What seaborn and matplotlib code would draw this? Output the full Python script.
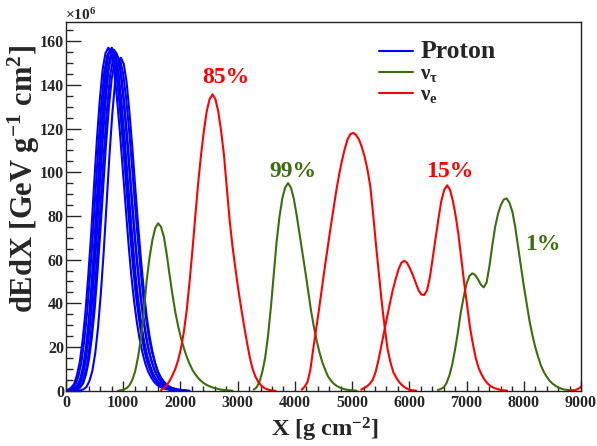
import numpy as np
import pandas as pd
import matplotlib
matplotlib.use("Agg")
import matplotlib.pyplot as plt
import seaborn as sns
from matplotlib.ticker import MultipleLocator
from matplotlib.lines import Line2D

# ---------------- data (dEdX in units of 1e6 GeV g^-1 cm^2) ----------------
STEP = 50  # sampling step in X [g cm^-2]

# Proton showers: X of first sample, then values every STEP
PROTON_START = [-60, -30, 0, 20, 40, 70, 100, 160]
PROTON_VALUES = [
    [0, 0.1, 0.5, 1.4, 3, 7, 13, 23, 36, 53, 72, 94, 115, 133, 147, 154.5, 157, 154.5, 147, 134, 119, 102, 85, 68, 53, 41, 31, 23, 17, 12, 8.5, 6, 4, 2.7, 1.8, 1.2, 0.8, 0.5, 0.3, 0.2, 0.1],
    [0, 0.1, 0.5, 1.4, 3, 7, 13, 23, 36, 53, 72, 93, 114, 132, 146, 153.5, 156, 154, 147, 135, 121, 105, 88, 72, 57, 44, 34, 25, 18.5, 13, 9.5, 6.5, 4.5, 3, 2, 1.3, 0.9, 0.6, 0.4, 0.2, 0.1],
    [0, 0, 0.3, 1, 2.3, 5.5, 11, 20, 33, 50, 70, 92, 114, 133, 147, 154.5, 157, 154.5, 147, 134, 118, 101, 84, 67, 52, 40, 30, 22, 16, 11.5, 8, 5.6, 3.8, 2.6, 1.7, 1.1, 0.7, 0.5, 0.3, 0.2, 0.1],
    [0, 0.1, 0.5, 1.4, 3, 7, 13, 23, 36, 53, 72, 92, 113, 131, 145, 152.5, 155, 152.5, 145, 132, 117, 100, 83, 67, 52, 40, 30, 22, 16, 11.5, 8, 5.6, 3.8, 2.6, 1.7, 1.1, 0.7, 0.5, 0.3, 0.2, 0.1],
    [0, 0.1, 0.5, 1.4, 3, 7, 13, 23, 36, 53, 72, 93, 114, 132, 146, 153.5, 156, 154, 148, 137, 123, 107, 90, 74, 59, 46, 35, 26, 19, 14, 10, 7, 4.8, 3.2, 2.1, 1.4, 0.9, 0.6, 0.4, 0.2, 0.1],
    [0, 0.1, 0.4, 1.2, 2.8, 6.5, 12, 22, 35, 52, 71, 92, 112, 130, 144, 151.5, 154, 151.5, 144, 131, 116, 99, 82, 66, 52, 40, 30, 22, 16, 11.5, 8, 5.6, 3.8, 2.6, 1.7, 1.1, 0.7, 0.5, 0.3, 0.2, 0.1],
    [0, 0.1, 0.5, 1.5, 3.3, 7.5, 14, 24, 37, 54, 73, 93, 113, 130, 143, 150.5, 153, 151, 145, 134, 120, 104, 87, 71, 56, 43, 33, 24, 18, 13, 9, 6.4, 4.4, 3, 2, 1.3, 0.9, 0.6, 0.4, 0.2, 0.1],
    [0, 0, 0.2, 0.7, 1.8, 4.5, 9, 17, 29, 45, 64, 86, 108, 127, 142, 150, 152.4, 149.5, 141, 127, 111, 93, 76, 60, 46, 34, 25, 18, 12.5, 8.5, 5.8, 3.9, 2.6, 1.7, 1.1, 0.7, 0.4, 0.3, 0.2, 0.1, 0],
]

# nu_tau showers
NUTAU_START = [910, 3280, 6500]
NUTAU_VALUES = [
    [0, 0.2, 0.5, 1.2, 2.5, 5, 9, 15.5, 24, 36, 50.5, 61, 69, 74.5, 76.6, 75, 70.5, 62.5, 53, 44, 36, 29.5, 24, 19.5, 15.5, 12.3, 9.5, 7.5, 5.8, 4.5, 3.4, 2.6, 2, 1.5, 1.1, 0.8, 0.5, 0.35, 0.2, 0.1, 0],
    [0.5, 1.5, 4, 8.5, 15, 25, 38, 53, 68, 79.5, 88, 93, 95, 93, 88, 80.5, 72, 63.5, 55, 46, 37, 29.5, 23, 17.5, 13, 9.5, 6.5, 4.6, 3.2, 2.2, 1.5, 1, 0.6, 0.35, 0.2, 0.1, 0],
    [0.3, 0.8, 1.5, 3.5, 7, 12, 19, 27, 36, 43, 49, 52.5, 53.7, 53, 51, 48.5, 47.3, 49.5, 57, 66.5, 75, 81, 85, 87.5, 88, 86, 82, 75, 66, 57, 48, 40, 32, 25.5, 20, 15.5, 11.5, 8.6, 6.4, 4.6, 3.3, 2.3, 1.5, 1, 0.6, 0.35, 0.2, 0.1, 0],
]

# nu_e showers
NUE_START = [1660, 4120, 5160, 8800]
NUE_VALUES = [
    [0.3, 1.2, 2.6, 4.5, 7, 10, 14, 19.5, 27, 37, 50, 64.5, 80, 95, 108, 119, 128, 133.5, 135.6, 133.5, 128, 119, 108, 93, 78, 66, 56, 46.5, 38, 30, 22.5, 15.5, 10, 6.5, 4, 2.4, 1.3, 0.7, 0.3, 0.1, 0],
    [0.5, 1.8, 4, 9.5, 19, 28, 37, 46.5, 56, 65, 74, 82.5, 91, 98.5, 105, 110.5, 115, 117.5, 118, 117, 115, 111.5, 107, 101, 93, 80, 66, 53, 40, 29, 19, 13, 8.5, 6, 4, 2.6, 1.5, 0.8, 0.4, 0.15, 0],
    [0.5, 1.2, 2, 3.2, 5, 8.5, 14, 20.5, 27, 33.5, 40, 46, 51, 55.5, 58.5, 59.5, 58.5, 56, 53, 49.5, 46, 44, 43.8, 46, 52, 61, 70, 79, 87, 92, 94, 92, 87, 80, 71, 60, 49, 39, 29, 21.5, 15, 10.5, 7.5, 5.2, 3.5, 2.3, 1.5, 1, 0.6, 0.3, 0.15, 0],
    [0, 0.1, 0.3, 0.8, 1.8, 3.5],
]

PERCENT_LABELS = ["85%", "99%", "15%", "1%"]
PERCENT_KIND = ["nue", "nutau", "nue", "nutau"]

# ---------------- build long-form table ----------------
rows = []
sid = 0
for kind, starts, vals in (("proton", PROTON_START, PROTON_VALUES),
                           ("nutau", NUTAU_START, NUTAU_VALUES),
                           ("nue", NUE_START, NUE_VALUES)):
    for s, v in zip(starts, vals):
        for i, y in enumerate(v):
            rows.append((kind, sid, s + STEP * i, y))
        sid += 1
df = pd.DataFrame(rows, columns=["kind", "shower", "X", "dEdX"])

# ---------------- style ----------------
sns.set_theme(style="ticks")
plt.rcParams["font.family"] = ["Liberation Serif", "DejaVu Serif"]
plt.rcParams["font.weight"] = "bold"
plt.rcParams["mathtext.fontset"] = "custom"
plt.rcParams["mathtext.rm"] = "Liberation Serif:bold"
plt.rcParams["mathtext.it"] = "Liberation Serif:bold"
plt.rcParams["mathtext.bf"] = "Liberation Serif:bold"
plt.rcParams["mathtext.default"] = "rm"

BLUE = "#0000ff"
GREEN = "#3d6e0c"
RED = "#ff0000"
palette = {"proton": BLUE, "nutau": GREEN, "nue": RED}

fig = plt.figure(figsize=(5.97, 4.46), dpi=100)
ax = fig.add_axes([66 / 597, 1 - 390.7 / 446, 515 / 597, 369 / 446])

sns.lineplot(data=df, x="X", y="dEdX", hue="kind", units="shower", estimator=None,
             palette=palette, hue_order=["proton", "nutau", "nue"], lw=1.5,
             legend=False, ax=ax, sort=False)

ax.set_xlim(0, 9000)
ax.set_ylim(0, 168.9)
ax.set_xlabel("")
ax.set_ylabel("")

ax.xaxis.set_major_locator(MultipleLocator(1000))
ax.xaxis.set_minor_locator(MultipleLocator(200))
ax.yaxis.set_major_locator(MultipleLocator(20))
ax.yaxis.set_minor_locator(MultipleLocator(5))
ax.tick_params(axis="y", which="major", direction="in", length=10.5, width=1, pad=1.5, labelsize=11.5)
ax.tick_params(axis="y", which="minor", direction="in", length=5, width=1)
ax.tick_params(axis="x", which="major", direction="in", length=7, width=1, pad=3, labelsize=11.5)
ax.tick_params(axis="x", which="minor", direction="in", length=3.6, width=1)
for lab in ax.get_xticklabels() + ax.get_yticklabels():
    lab.set_fontweight("bold")
for sp in ax.spines.values():
    sp.set_visible(True)
    sp.set_color("#222222")
    sp.set_linewidth(1.0)

# percentage annotations
pct_pos = [(2787, 141), (3967, 97.7), (6712, 97.9), (8337, 64.4)]
for txt, kind, (px, py) in zip(PERCENT_LABELS, PERCENT_KIND, pct_pos):
    ax.text(px, py, txt, color=palette[kind], fontsize=17, fontweight="bold",
            ha="center", va="baseline")

# legend
handles = [Line2D([], [], color=BLUE, lw=1.5),
           Line2D([], [], color=GREEN, lw=1.5),
           Line2D([], [], color=RED, lw=1.5)]
labels = ["Proton", "ν$_{τ}$", "ν$_{e}$"]
leg = ax.legend(handles, labels, loc="upper left", bbox_to_anchor=(0.607, 0.95),
                frameon=False, fontsize=15, handlelength=1.65, handletextpad=0.35,
                labelspacing=0.05, borderpad=0, borderaxespad=0)
leg.get_texts()[0].set_fontsize(18.5)

# axis titles
fig.text(24 / 597, 1 - 179 / 446, "dEdX [GeV g$^{-1}$ cm$^{2}$]", rotation=90,
         ha="center", va="center", fontsize=22, fontweight="bold")
fig.text(325 / 597, 1 - 430 / 446, "X [g cm$^{-2}$]", ha="center", va="center",
         fontsize=17.5, fontweight="bold")
fig.text(65 / 597, 1 - 19.5 / 446, "×10$^{6}$", ha="left", va="baseline",
         fontsize=11, fontweight="bold")

fig.savefig("out.png", dpi=100)
